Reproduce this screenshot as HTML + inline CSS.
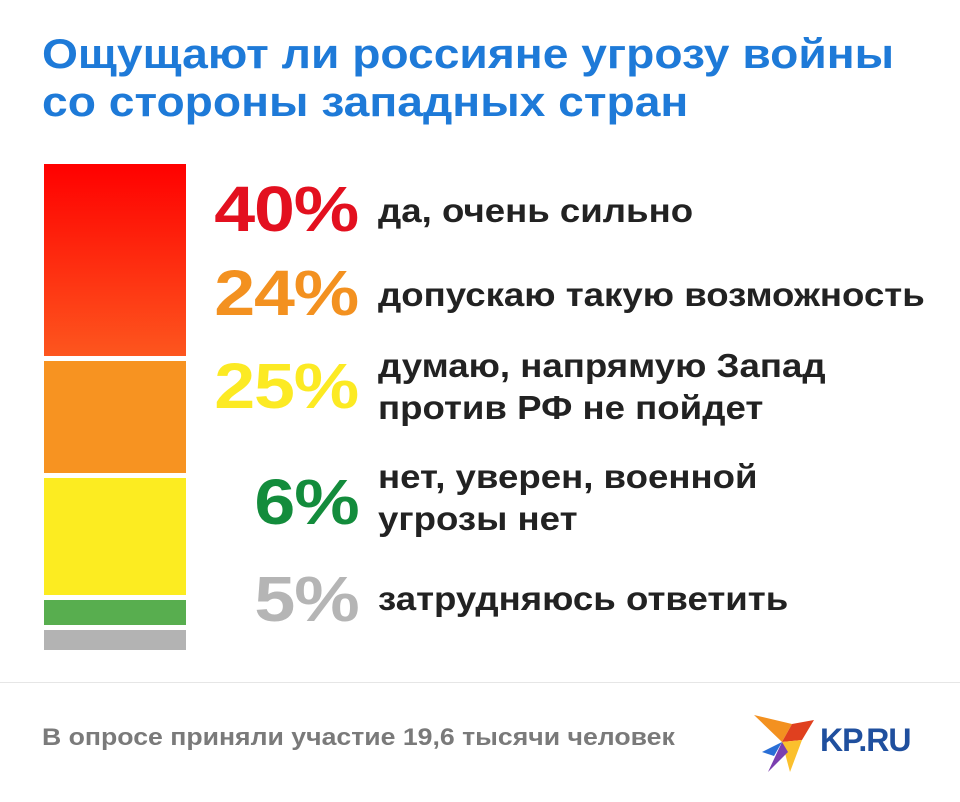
<!DOCTYPE html>
<html><head><meta charset="utf-8"><style>
body{margin:0;width:960px;height:802px;background:#fff;position:relative;overflow:hidden;font-family:"Liberation Sans",sans-serif}
.a{position:absolute;white-space:nowrap}
.t{left:42px;top:30px;font-size:42px;font-weight:bold;color:#1e7ad8;line-height:48px;transform:scaleX(1.1);transform-origin:left top}
.p{right:602px;font-size:64px;font-weight:900;letter-spacing:-1px;line-height:62px;text-align:right;transform:scaleX(1.15);transform-origin:right top}
.l{left:378px;font-size:33px;font-weight:bold;color:#222;line-height:42px;transform:scaleX(1.11);transform-origin:left top}
</style></head><body>
<div class="a t">Ощущают ли россияне угрозу войны<br>со стороны западных стран</div>
<div class="a" style="left:44px;top:164px;width:142px;height:192px;background:linear-gradient(#ff0000,#fd561e)"></div>
<div class="a" style="left:44px;top:361px;width:142px;height:112px;background:#f79321"></div>
<div class="a" style="left:44px;top:478px;width:142px;height:117px;background:#fcec21"></div>
<div class="a" style="left:44px;top:600px;width:142px;height:25px;background:#58ae4f"></div>
<div class="a" style="left:44px;top:630px;width:142px;height:20px;background:#b3b3b3"></div>
<div class="a p" style="top:178px;color:#e3101f">40%</div>
<div class="a p" style="top:262px;color:#f39120">24%</div>
<div class="a p" style="top:355px;color:#fcea23">25%</div>
<div class="a p" style="top:471px;color:#138c3c">6%</div>
<div class="a p" style="top:568px;color:#b5b5b5">5%</div>
<div class="a l" style="top:190px">да, очень сильно</div>
<div class="a l" style="top:274px">допускаю такую возможность</div>
<div class="a l" style="top:345px">думаю, напрямую Запад<br>против РФ не пойдет</div>
<div class="a l" style="top:456px">нет, уверен, военной<br>угрозы нет</div>
<div class="a l" style="top:578px">затрудняюсь ответить</div>
<div class="a" style="left:0;top:682px;width:960px;height:1px;background:#e6e6e6"></div>
<div class="a" style="left:42px;top:724px;font-size:24px;font-weight:bold;color:#7a7a7a;transform:scaleX(1.11);transform-origin:left top">В опросе приняли участие 19,6 тысячи человек</div>
<svg class="a" style="left:752px;top:712px" width="70" height="70" viewBox="0 0 70 70">
<polygon points="2,3 40,12 30,30" fill="#f39120"/>
<polygon points="30,30 40,12 62,8 50,28" fill="#e0401f"/>
<polygon points="30,30 50,28 38,60" fill="#fbc02d"/>
<polygon points="30,30 36,40 16,60" fill="#7b3fb0"/>
<polygon points="10,40 30,30 22,44" fill="#2a6fd6"/>
</svg>
<div class="a" style="left:820px;top:722px;font-size:32px;font-weight:900;color:#1f4f9e;letter-spacing:-1px">KP.RU</div>
</body></html>
